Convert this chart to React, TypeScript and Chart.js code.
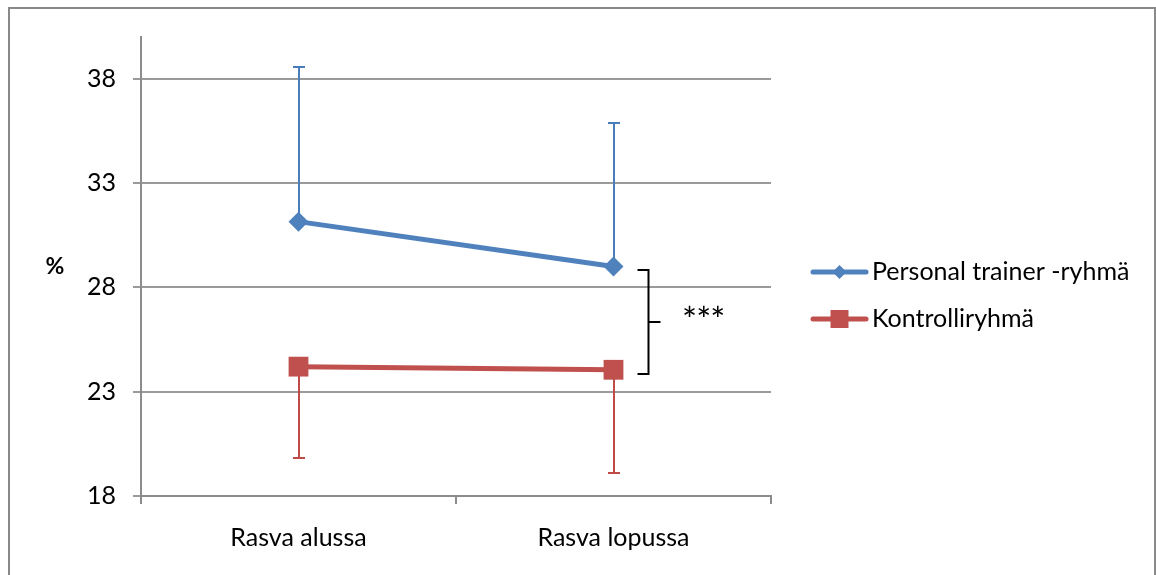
import React, { useEffect, useRef } from 'react';
import { Chart, registerables } from 'chart.js';

Chart.register(...registerables);

// ---------- data ----------
const categories = ['Rasva alussa', 'Rasva lopussa'];
const seriesNames = ['Personal trainer -ryhmä', 'Kontrolliryhmä'];
const ptValues = [31.15, 29.0];
const ptErrorUp = [7.4, 6.9];
const kValues = [24.2, 24.05];
const kErrorDown = [4.4, 4.95];
const yTicks = [18, 23, 28, 33, 38];
const yMin = 18;
const yMax = 40;
const significanceRange = [28.85, 23.85];
const significanceLabel = '***';
const yAxisLabel = '%';

// ---------- styles ----------
const BLUE = '#4F81BD';
const RED = '#C0504D';
const FONT = "Lato, 'Liberation Sans', sans-serif";
const FONT_SIZE = 25;

const errorBarsPlugin = {
  id: 'errorBars',
  beforeDatasetsDraw(chart: any) {
    const { ctx, scales } = chart;
    const y = scales.y;
    const specs = [
      { ds: 0, values: ptValues, err: ptErrorUp, dir: 1, color: '#4A7EBB' },
      { ds: 1, values: kValues, err: kErrorDown, dir: -1, color: '#BE4B48' },
    ];
    ctx.save();
    specs.forEach((s) => {
      const meta = chart.getDatasetMeta(s.ds);
      s.values.forEach((v, i) => {
        const pt = meta.data[i];
        const px = Math.round(pt.x);
        const py0 = y.getPixelForValue(v);
        const py1 = Math.round(y.getPixelForValue(v + s.dir * s.err[i]));
        ctx.strokeStyle = s.color;
        ctx.lineWidth = 2;
        ctx.beginPath();
        ctx.moveTo(px, py0);
        ctx.lineTo(px, py1);
        ctx.moveTo(px - 6, py1);
        ctx.lineTo(px + 6, py1);
        ctx.stroke();
      });
    });
    ctx.restore();
  },
};

const annotationsPlugin = {
  id: 'annotations',
  afterDraw(chart: any) {
    const { ctx, scales } = chart;
    const x = scales.x;
    const y = scales.y;
    ctx.save();

    // y-axis label "%"
    ctx.fillStyle = '#000';
    ctx.font = `bold 23px ${FONT}`;
    ctx.textAlign = 'center';
    ctx.textBaseline = 'middle';
    ctx.fillText(yAxisLabel, 45, 258);

    // significance bracket
    const bx = Math.round(x.getPixelForValue(1)) + 34.5;
    const top = Math.round(y.getPixelForValue(significanceRange[0]));
    const bot = Math.round(y.getPixelForValue(significanceRange[1]));
    const mid = Math.round((top + bot) / 2);
    ctx.strokeStyle = '#000';
    ctx.lineWidth = 2;
    ctx.beginPath();
    ctx.moveTo(bx - 11, top);
    ctx.lineTo(bx, top);
    ctx.lineTo(bx, bot);
    ctx.lineTo(bx - 11, bot);
    ctx.moveTo(bx, mid);
    ctx.lineTo(bx + 12, mid);
    ctx.stroke();

    // asterisks: scale glyph so it is ~11px wide, centre it vertically on the bracket tick
    ctx.font = `100px ${FONT}`;
    const m100 = ctx.measureText('*');
    const w100 = (m100.actualBoundingBoxRight + m100.actualBoundingBoxLeft) || 40;
    const size = Math.max(10, (11 / w100) * 100);
    ctx.font = `${size}px ${FONT}`;
    const m = ctx.measureText('*');
    const asc = m.actualBoundingBoxAscent;
    const desc = m.actualBoundingBoxDescent;
    const baseline = mid + 0.5 + (asc - desc) / 2;
    ctx.textAlign = 'center';
    ctx.textBaseline = 'alphabetic';
    significanceLabel.split('').forEach((c, i) => {
      ctx.fillText(c, bx + 41 + i * 14.2, baseline);
    });

    // legend
    const items = [
      { name: seriesNames[0], color: BLUE, style: 'diamond', y: 263 },
      { name: seriesNames[1], color: RED, style: 'square', y: 310 },
    ];
    items.forEach((it) => {
      ctx.strokeStyle = it.color;
      ctx.fillStyle = it.color;
      ctx.lineWidth = 5;
      ctx.lineCap = 'round';
      ctx.beginPath();
      ctx.moveTo(803, it.y);
      ctx.lineTo(856, it.y);
      ctx.stroke();
      const cx = 829.5;
      ctx.beginPath();
      if (it.style === 'diamond') {
        ctx.moveTo(cx - 7, it.y);
        ctx.lineTo(cx, it.y - 7);
        ctx.lineTo(cx + 7, it.y);
        ctx.lineTo(cx, it.y + 7);
        ctx.closePath();
      } else {
        ctx.rect(cx - 9, it.y - 9, 18, 18);
      }
      ctx.fill();
      ctx.fillStyle = '#000';
      ctx.font = `${FONT_SIZE}px ${FONT}`;
      ctx.textAlign = 'left';
      ctx.textBaseline = 'middle';
      ctx.fillText(it.name, 862, it.y);
    });
    ctx.restore();
  },
};

export default function App() {
  const ref = useRef<HTMLCanvasElement | null>(null);

  useEffect(() => {
    if (!ref.current) return;
    const chart = new Chart(ref.current, {
      type: 'line',
      data: {
        labels: categories,
        datasets: [
          {
            label: seriesNames[0],
            data: ptValues,
            borderColor: BLUE,
            backgroundColor: BLUE,
            borderWidth: 5,
            tension: 0,
            pointStyle: 'rectRot',
            pointRadius: 10,
            pointHoverRadius: 10,
            pointBackgroundColor: BLUE,
            pointBorderColor: BLUE,
            pointBorderWidth: 0,
          },
          {
            label: seriesNames[1],
            data: kValues,
            borderColor: RED,
            backgroundColor: RED,
            borderWidth: 5,
            tension: 0,
            pointStyle: 'rect',
            pointRadius: 14,
            pointHoverRadius: 14,
            pointBackgroundColor: RED,
            pointBorderColor: RED,
            pointBorderWidth: 0,
          },
        ],
      },
      options: {
        responsive: false,
        animation: false,
        layout: { padding: { top: 28, right: 383, bottom: 0, left: 0 } },
        plugins: {
          legend: { display: false },
          tooltip: { enabled: false },
          title: { display: false },
        },
        scales: {
          x: {
            type: 'category',
            offset: true,
            grid: {
              display: true,
              offset: true,
              drawOnChartArea: false,
              drawTicks: true,
              tickLength: 8,
              color: '#8c8c8c',
              lineWidth: 2,
            },
            border: { display: true, color: '#8c8c8c', width: 2 },
            ticks: {
              color: '#000',
              font: { family: FONT, size: FONT_SIZE },
              padding: 19,
              maxRotation: 0,
            },
            afterFit: (scale: any) => {
              scale.height = 79;
            },
          },
          y: {
            type: 'linear',
            min: yMin,
            max: yMax,
            afterBuildTicks: (scale: any) => {
              scale.ticks = yTicks.map((v) => ({ value: v }));
            },
            grid: {
              color: '#9a9a9a',
              lineWidth: 2,
              tickLength: 8,
              drawTicks: true,
            },
            border: { display: true, color: '#8c8c8c', width: 2 },
            ticks: {
              color: '#000',
              font: { family: FONT, size: FONT_SIZE },
              padding: 17,
            },
            afterFit: (scale: any) => {
              scale.width = 131;
              scale.paddingTop = 0;
              scale.paddingBottom = 0;
            },
          },
        },
      },
      plugins: [errorBarsPlugin, annotationsPlugin],
    });
    return () => chart.destroy();
  }, []);

  return (
    <div
      style={{
        position: 'fixed',
        left: 8,
        top: 7,
        width: 1148,
        height: 590,
        border: '2px solid #898989',
        boxSizing: 'border-box',
        background: '#fff',
      }}
    >
      <canvas ref={ref} width={1144} height={566} style={{ display: 'block' }} />
    </div>
  );
}
